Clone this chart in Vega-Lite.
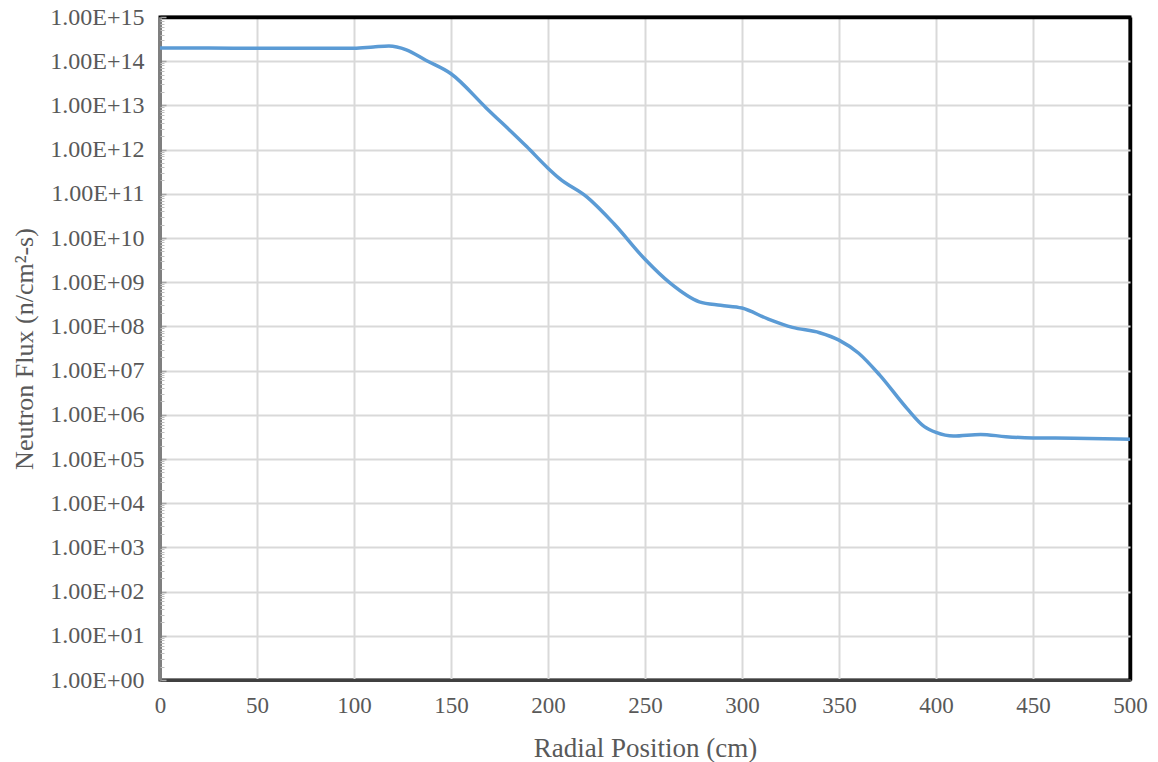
{
  "$schema": "https://vega.github.io/schema/vega-lite/v6.json",
  "width": 970,
  "height": 663,
  "autosize": {"type": "none"},
  "padding": {"left": 160, "top": 17, "right": 28, "bottom": 82},
  "background": "white",
  "config": {
    "view": {"stroke": "black", "strokeWidth": 3},
    "font": "Liberation Serif",
    "axis": {
      "labelFont": "Liberation Serif",
      "titleFont": "Liberation Serif",
      "labelColor": "#595959",
      "titleColor": "#595959",
      "titleFontWeight": "normal",
      "gridColor": "#d9d9d9",
      "gridWidth": 2
    }
  },
  "data": {
    "values": [
      {"r": 0, "flux": 2.0e14},
      {"r": 25, "flux": 1.98e14},
      {"r": 50, "flux": 1.97e14},
      {"r": 75, "flux": 1.96e14},
      {"r": 100, "flux": 1.97e14},
      {"r": 110, "flux": 2.1e14},
      {"r": 118, "flux": 2.2e14},
      {"r": 127, "flux": 1.8e14},
      {"r": 137, "flux": 1.05e14},
      {"r": 150, "flux": 5.2e13},
      {"r": 168, "flux": 8.9e12},
      {"r": 189, "flux": 1.17e12},
      {"r": 200, "flux": 3.8e11},
      {"r": 206, "flux": 2.2e11},
      {"r": 220, "flux": 8.5e10},
      {"r": 234, "flux": 2.1e10},
      {"r": 250, "flux": 3.3e9},
      {"r": 263, "flux": 9.5e8},
      {"r": 278, "flux": 3.6e8},
      {"r": 289, "flux": 3.0e8},
      {"r": 300, "flux": 2.6e8},
      {"r": 313, "flux": 1.5e8},
      {"r": 326, "flux": 9.5e7},
      {"r": 340, "flux": 7.2e7},
      {"r": 350, "flux": 4.9e7},
      {"r": 360, "flux": 2.5e7},
      {"r": 371, "flux": 7.9e6},
      {"r": 385, "flux": 1.4e6},
      {"r": 394, "flux": 5.4e5},
      {"r": 400, "flux": 4.0e5},
      {"r": 409, "flux": 3.3e5},
      {"r": 423, "flux": 3.6e5},
      {"r": 436, "flux": 3.2e5},
      {"r": 450, "flux": 3.0e5},
      {"r": 471, "flux": 2.95e5},
      {"r": 500, "flux": 2.8e5}
    ]
  },
  "resolve": {"axis": {"y": "independent"}},
  "layer": [
    {
      "encoding": {
        "x": {
          "field": "r",
          "type": "quantitative",
          "scale": {"domain": [0, 500], "nice": false, "zero": false},
          "axis": {
            "title": "Radial Position (cm)",
            "values": [0, 50, 100, 150, 200, 250, 300, 350, 400, 450, 500],
            "labelFontSize": 23,
            "titleFontSize": 27,
            "labelPadding": 14,
            "titleY": 76,
            "titleBaseline": "alphabetic",
            "tickSize": 0,
            "domainColor": "#404040",
            "domainWidth": 3,
            "grid": true,
            "gridColor": {"condition": {"test": "datum.value >= 500", "value": "black"}, "value": "#d9d9d9"},
            "gridWidth": {"condition": {"test": "datum.value >= 500", "value": 3.5}, "value": 2},
            "labelFlush": false
          }
        },
        "y": {
          "field": "flux",
          "type": "quantitative",
          "scale": {"type": "log", "domain": [1, 1e15], "nice": false},
          "axis": {
            "orient": "left",
            "title": "Neutron Flux (n/cm²-s)",
            "values": [1, 10, 100, 1000, 10000, 100000, 1000000, 10000000, 100000000, 1000000000, 10000000000, 100000000000, 1000000000000, 10000000000000, 100000000000000, 1000000000000000],
            "labelExpr": "'1.00E+' + (round(log(datum.value)/LN10) < 10 ? '0' : '') + round(log(datum.value)/LN10)",
            "labelFontSize": 24,
            "titleFontSize": 26,
            "labelPadding": 22,
            "tickSize": -6,
            "tickColor": "#a6a6a6",
            "tickWidth": 1.5,
            "domainColor": "#7f7f7f",
            "domainWidth": 3,
            "grid": true,
            "gridColor": {"condition": {"test": "datum.value >= 1e15", "value": "black"}, "value": "#d9d9d9"},
            "gridWidth": {"condition": {"test": "datum.value >= 1e15", "value": 3.5}, "value": 2},
            "labelFlush": false,
            "labelOverlap": false,
            "titleX": -128,
            "titleY": 331.5,
            "titleBaseline": "alphabetic"
          }
        }
      },
      "mark": {
        "type": "line",
        "color": "#5b9bd5",
        "strokeWidth": 3.5,
        "interpolate": "monotone",
        "clip": true
      }
    },
    {
      "encoding": {
        "x": {"field": "r", "type": "quantitative"},
        "y": {
          "field": "flux",
          "type": "quantitative",
          "axis": {
            "orient": "left",
            "title": null,
            "labels": false,
            "domain": false,
            "grid": false,
            "tickSize": -4,
            "tickColor": "#bfbfbf",
            "tickWidth": 1,
            "offset": 0,
            "values": [2,3,4,5,6,7,8,9,20,30,40,50,60,70,80,90,200,300,400,500,600,700,800,900,2000,3000,4000,5000,6000,7000,8000,9000,20000,30000,40000,50000,60000,70000,80000,90000,200000,300000,400000,500000,600000,700000,800000,900000,2e6,3e6,4e6,5e6,6e6,7e6,8e6,9e6,2e7,3e7,4e7,5e7,6e7,7e7,8e7,9e7,2e8,3e8,4e8,5e8,6e8,7e8,8e8,9e8,2e9,3e9,4e9,5e9,6e9,7e9,8e9,9e9,2e10,3e10,4e10,5e10,6e10,7e10,8e10,9e10,2e11,3e11,4e11,5e11,6e11,7e11,8e11,9e11,2e12,3e12,4e12,5e12,6e12,7e12,8e12,9e12,2e13,3e13,4e13,5e13,6e13,7e13,8e13,9e13,2e14,3e14,4e14,5e14,6e14,7e14,8e14,9e14]
          }
        }
      },
      "mark": {"type": "line", "strokeOpacity": 0, "clip": true}
    }
  ]
}
